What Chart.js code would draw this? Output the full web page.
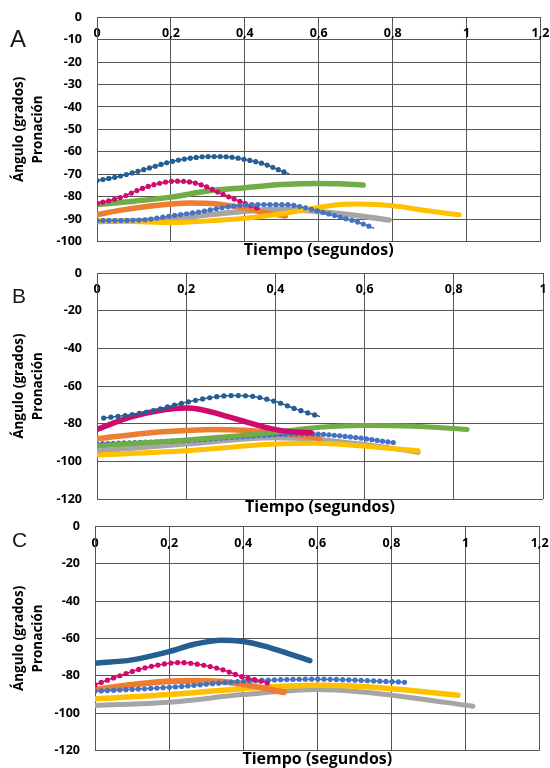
<!DOCTYPE html>
<html>
<head>
<meta charset="utf-8">
<title>Pronación</title>
<script src="https://cdn.jsdelivr.net/npm/chart.js@4.4.1/dist/chart.umd.min.js"></script>
<style>
    body { margin: 0; background: #ffffff; }
    #wrap { position: relative; width: 550px; height: 768px; overflow: hidden; }
    canvas { position: absolute; left: 0; }
    .panel {
        position: absolute;
        font-family: "Liberation Sans", Arial, sans-serif;
        color: #1a1a1a;
        line-height: 1;
    }
</style>
</head>
<body>
<div id="wrap">
    <canvas id="chartA" width="550" height="262" style="top:0px"></canvas>
    <canvas id="chartB" width="550" height="262" style="top:258px"></canvas>
    <canvas id="chartC" width="550" height="258" style="top:510px"></canvas>
    <div class="panel" style="left:10px; top:27px; font-size:24px;">A</div>
    <div class="panel" style="left:12px; top:285px; font-size:21px;">B</div>
    <div class="panel" style="left:12px; top:529px; font-size:21px;">C</div>
</div>

<script>
    // [tiempo (s), ángulo (grados)]
    // Panel A
    const A_darkBlue  = [[0,-72.8],[0.05,-71.3],[0.1,-69.2],[0.15,-66.8],[0.2,-64.4],[0.25,-62.9],[0.3,-62.1],[0.35,-62.2],[0.4,-63.4],[0.45,-65.3],[0.5,-68.6],[0.52,-69.8]];
    const A_magenta   = [[0,-83],[0.04,-81.5],[0.07,-80],[0.12,-76.5],[0.17,-74],[0.21,-73.1],[0.25,-73.4],[0.29,-75.2],[0.33,-78.2],[0.37,-81],[0.41,-83.6],[0.44,-85.5]];
    const A_green     = [[0,-83.5],[0.1,-82],[0.2,-80.2],[0.3,-77.5],[0.4,-76],[0.5,-74.6],[0.6,-74.1],[0.65,-74.2],[0.72,-74.8]];
    const A_orange    = [[0,-88],[0.07,-85.9],[0.14,-84.3],[0.2,-83.3],[0.25,-82.8],[0.32,-83.2],[0.4,-85.2],[0.45,-87],[0.51,-88.6]];
    const A_lightBlue = [[0,-90.7],[0.12,-90.4],[0.2,-88.6],[0.28,-86.7],[0.36,-84.4],[0.43,-83.5],[0.52,-83.6],[0.55,-84.5],[0.6,-86.5],[0.66,-89.2],[0.71,-91.6],[0.75,-94.1]];
    const A_grey      = [[0,-91.1],[0.1,-90.8],[0.2,-90.1],[0.3,-88.1],[0.4,-86.5],[0.5,-85.5],[0.6,-86.7],[0.69,-88.2],[0.79,-90.4]];
    const A_yellow    = [[0,-90.8],[0.1,-91.1],[0.2,-91.5],[0.3,-90.8],[0.4,-89.6],[0.5,-87.6],[0.6,-84.8],[0.66,-83.5],[0.71,-83.3],[0.8,-84.1],[0.89,-86.2],[0.98,-88.1]];

    // Panel B
    const B_darkBlue  = [[0.015,-77],[0.1,-74.3],[0.2,-68.6],[0.26,-65.9],[0.3,-65],[0.34,-65.2],[0.4,-68.2],[0.45,-72.5],[0.5,-76.2]];
    const B_magenta   = [[0,-83],[0.075,-76.5],[0.15,-72.5],[0.2,-71.6],[0.23,-72.3],[0.3,-76.6],[0.36,-80.8],[0.41,-83.5],[0.48,-84.8]];
    const B_orange    = [[0,-88],[0.11,-85],[0.2,-83.6],[0.26,-83],[0.33,-83.5],[0.4,-85],[0.47,-86.8],[0.5,-87.8]];
    const B_lightBlue = [[0,-90.7],[0.2,-88.9],[0.4,-85.8],[0.48,-85.4],[0.56,-86.8],[0.67,-90.2]];
    const B_green     = [[0,-91.8],[0.2,-88.6],[0.4,-84.5],[0.5,-81.9],[0.6,-80.9],[0.71,-81.3],[0.83,-83]];
    const B_grey      = [[0,-94.5],[0.2,-90.8],[0.4,-87.5],[0.49,-88.3],[0.6,-91],[0.72,-95.2]];
    const B_yellow    = [[0,-96.6],[0.2,-94.3],[0.4,-90.8],[0.49,-90.4],[0.6,-92],[0.72,-94.3]];

    // Panel C
    const C_darkBlue  = [[0,-73.3],[0.1,-71.5],[0.2,-67.1],[0.27,-63],[0.34,-60.9],[0.4,-61.6],[0.46,-64.2],[0.52,-68],[0.58,-71.9]];
    const C_magenta   = [[0,-84.8],[0.05,-81.2],[0.12,-76.5],[0.2,-73.3],[0.23,-72.9],[0.27,-73.6],[0.34,-76.5],[0.4,-80.7],[0.45,-83],[0.47,-84.2]];
    const C_orange    = [[0,-87.4],[0.1,-84.8],[0.2,-83],[0.27,-82.7],[0.36,-83.5],[0.43,-85.7],[0.51,-88.8]];
    const C_lightBlue = [[0,-88.3],[0.2,-86.2],[0.4,-83],[0.6,-81.8],[0.72,-82.5],[0.84,-83.5]];
    const C_yellow    = [[0,-92.4],[0.2,-90.1],[0.4,-86.9],[0.6,-85.1],[0.72,-85.7],[0.86,-88],[0.98,-90.4]];
    const C_grey      = [[0,-95.9],[0.2,-94.2],[0.4,-90.1],[0.6,-87.4],[0.72,-88.7],[0.86,-91.9],[1.02,-96.3]];

    const darkBlue = '#255E91';
    const magenta = '#D20A6E';
    const green = '#70AD47';
    const orange = '#ED7D31';
    const lightBlue = '#4472C4';
    const grey = '#A5A5A5';
    const yellow = '#FFC000';
    const gridColor = '#555555';

    Chart.defaults.font.family = '"Open Sans", Lato, sans-serif';
    Chart.defaults.color = '#000';

    function toXY(pts) {
        return pts.map(function (p) { return { x: p[0], y: p[1] }; });
    }

    // line of round markers: a thin line plus round dots from a dash pattern
    function dotted(pts, color, gap) {
        return [{
            data: toXY(pts),
            borderColor: color,
            borderWidth: 5.2,
            borderDash: [0, gap],
            borderCapStyle: 'round',
            pointRadius: 0,
            cubicInterpolationMode: 'monotone'
        }, {
            data: toXY(pts),
            borderColor: color,
            borderWidth: 1.5,
            pointRadius: 0,
            cubicInterpolationMode: 'monotone'
        }];
    }

    function solid(pts, color, width) {
        return [{
            data: toXY(pts),
            borderColor: color,
            borderWidth: width,
            borderCapStyle: 'round',
            borderJoinStyle: 'round',
            pointRadius: 0,
            cubicInterpolationMode: 'monotone'
        }];
    }

    function comma(v) {
        return String(Math.round(v * 10) / 10).replace('.', ',');
    }

    function makeChart(id, setup, datasets) {
        return new Chart(document.getElementById(id), {
            type: 'line',
            data: { datasets: datasets },
            options: {
                responsive: false,
                animation: false,
                events: [],
                layout: { padding: setup.padding },
                plugins: { legend: { display: false }, tooltip: { enabled: false } },
                scales: {
                    x: {
                        type: 'linear',
                        position: { y: 0 },
                        min: 0,
                        max: setup.xMax,
                        ticks: {
                            stepSize: 0.2,
                            padding: 9,
                            font: { size: 12.5, weight: 'bold' },
                            color: '#000',
                            maxRotation: 0,
                            callback: comma
                        },
                        grid: { color: gridColor, drawTicks: false },
                        border: { color: gridColor },
                        afterFit: function (s) { s.paddingLeft = 0; s.paddingRight = 0; }
                    },
                    xt: {
                        type: 'linear',
                        position: 'bottom',
                        min: 0,
                        max: setup.xMax,
                        ticks: { display: false },
                        grid: { display: false, drawTicks: false },
                        border: { display: false },
                        title: {
                            display: true,
                            text: 'Tiempo (segundos)',
                            font: { size: 16, weight: 'bold', lineHeight: 1.1 },
                            color: '#000',
                            padding: 0
                        }
                    },
                    y: {
                        min: setup.yMin,
                        max: 0,
                        ticks: {
                            stepSize: setup.yStep,
                            padding: 15,
                            font: { size: 12.5, weight: 'bold' },
                            color: '#000'
                        },
                        grid: { color: gridColor, drawTicks: false },
                        border: { color: gridColor },
                        title: {
                            display: true,
                            text: ['Ángulo (grados)', 'Pronación'],
                            font: { size: 13.5, weight: 'bold', lineHeight: 1.45 },
                            color: '#000',
                            padding: { top: 9, bottom: 0 }
                        },
                        afterFit: function (s) {
                            s.width = setup.left;
                            s.paddingTop = 0;
                            s.paddingBottom = 0;
                        }
                    }
                }
            }
        });
    }

    makeChart('chartA',
        { xMax: 1.2, yMin: -100, yStep: 10, left: 97, padding: { top: 17.3, bottom: 2.9, left: 0, right: 9.5 } },
        [].concat(
            dotted(A_lightBlue, lightBlue, 6),
            dotted(A_magenta, magenta, 6),
            dotted(A_darkBlue, darkBlue, 6),
            solid(A_yellow, yellow, 5),
            solid(A_orange, orange, 5.5),
            solid(A_grey, grey, 5.5),
            solid(A_green, green, 5.5)
        ));

    makeChart('chartB',
        { xMax: 1, yMin: -120, yStep: 20, left: 97, padding: { top: 15.3, bottom: 3.4, left: 0, right: 7 } },
        [].concat(
            dotted(B_darkBlue, darkBlue, 7.2),
            solid(B_magenta, magenta, 5.5),
            solid(B_green, green, 5),
            dotted(B_lightBlue, lightBlue, 5.4),
            solid(B_orange, orange, 5.5),
            solid(B_yellow, yellow, 5),
            solid(B_grey, grey, 5)
        ));

    makeChart('chartC',
        { xMax: 1.2, yMin: -120, yStep: 20, left: 95, padding: { top: 16.5, bottom: 0, left: 0, right: 10.4 } },
        [].concat(
            dotted(C_magenta, magenta, 6.6),
            dotted(C_lightBlue, lightBlue, 6.2),
            solid(C_darkBlue, darkBlue, 5.5),
            solid(C_orange, orange, 6),
            solid(C_yellow, yellow, 5.5),
            solid(C_grey, grey, 5)
        ));
</script>
</body>
</html>
